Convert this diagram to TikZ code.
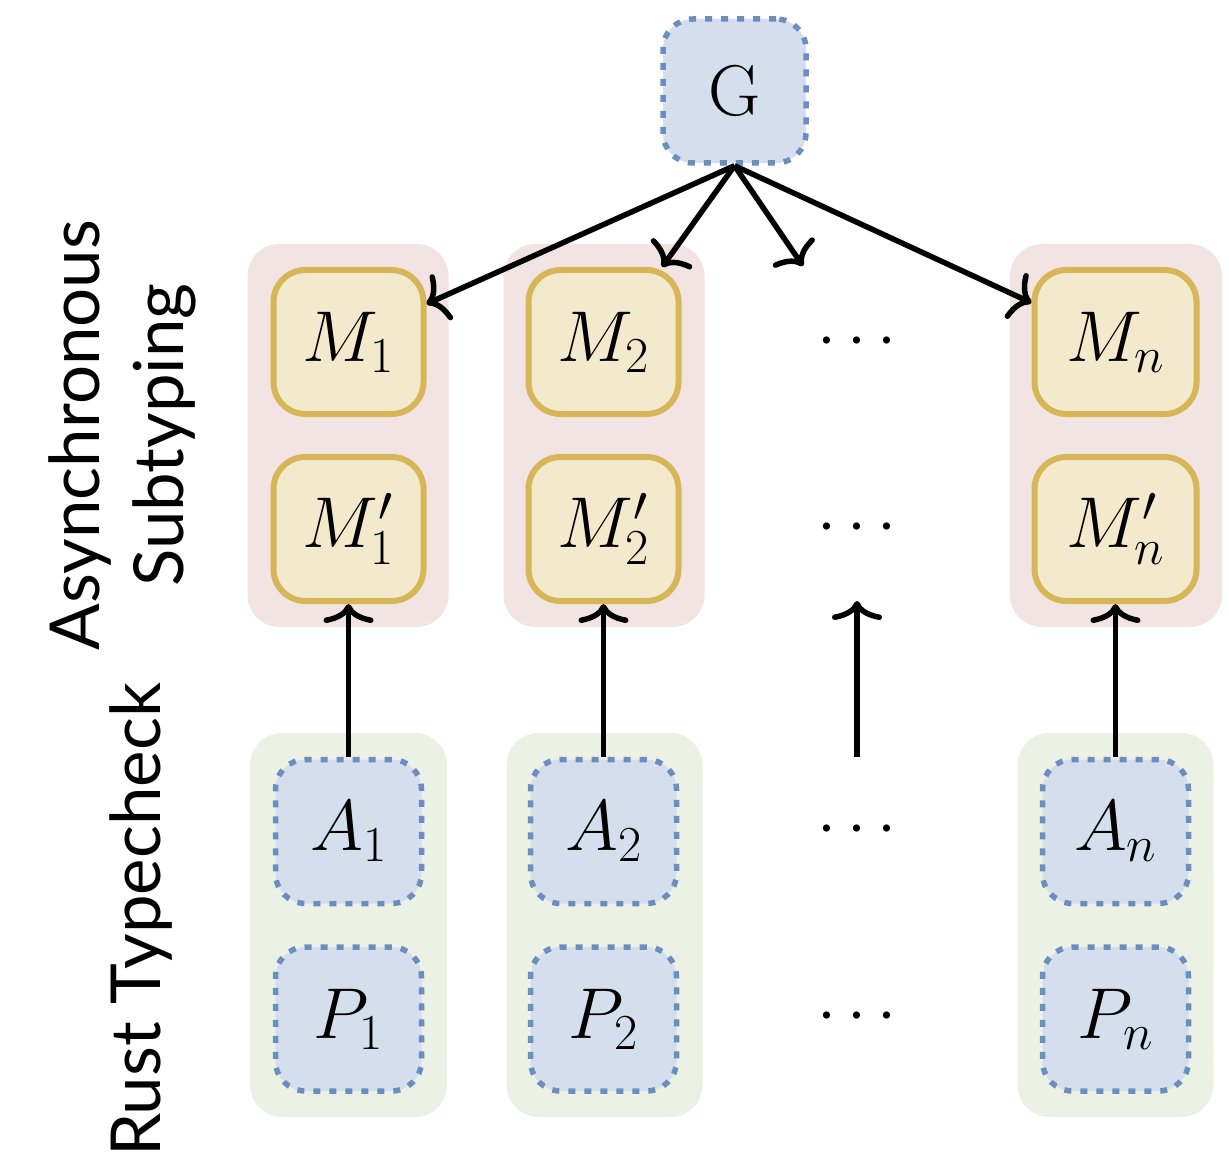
\RequirePackage{fix-cm}
\documentclass[tikz,border=0pt]{standalone}
\usepackage{fontspec}
\setsansfont{Lato}
\usetikzlibrary{arrows.meta}
\definecolor{bfill}{RGB}{212,222,236}
\definecolor{bline}{RGB}{108,142,191}
\definecolor{yfill}{RGB}{243,233,205}
\definecolor{yline}{RGB}{214,182,86}
\definecolor{pgrp}{RGB}{243,228,228}
\definecolor{ggrp}{RGB}{235,242,229}
\tikzset{
  bluebox/.style={draw=bline, fill=bfill, line width=5.5pt, dash pattern=on 7pt off 9pt,
    rounded corners=30pt, minimum height=144pt, inner sep=0pt,
    font=\fontsize{72}{78}\selectfont},
  ybox/.style={draw=yline, fill=yfill, line width=6pt, rounded corners=32pt,
    minimum height=144pt, inner sep=0pt, font=\fontsize{72}{78}\selectfont},
  pinkgrp/.style={fill=pgrp, rounded corners=32pt, inner sep=0pt, minimum height=383pt},
  greengrp/.style={fill=ggrp, rounded corners=32pt, inner sep=0pt, minimum height=384pt},
  arr/.style={line width=5.5pt, -{Computer Modern Rightarrow[length=19pt,width=50pt,line width=5.5pt]}},
  dotlbl/.style={inner sep=0pt, font=\fontsize{68}{72}\selectfont},
  sidelbl/.style={rotate=90, align=center, inner sep=0pt, font=\sffamily\fontsize{69}{84}\selectfont}
}
\begin{document}
\begin{tikzpicture}[x=1pt,y=-1pt]
\useasboundingbox (0,0) rectangle (1229,1158);
% groups
\node[pinkgrp, minimum width=201pt] (pg1) at (348,435.5) {};
\node[pinkgrp, minimum width=201pt] (pg2) at (604,435.5) {};
\node[pinkgrp, minimum width=212pt] (pgn) at (1116,435.5) {};
\node[greengrp, minimum width=197pt] (gg1) at (348.5,925) {};
\node[greengrp, minimum width=196pt] (gg2) at (604.5,925) {};
\node[greengrp, minimum width=196pt] (ggn) at (1115.5,925) {};
% G
\node[bluebox, minimum width=143pt] (G) at (734.5,91) {G};
% M nodes
\node[ybox, minimum width=150pt] (M1) at (348.5,342) {$M_1$};
\node[ybox, minimum width=150pt] (M2) at (603.5,342) {$M_2$};
\node[ybox, minimum width=162pt] (Mn) at (1115.5,342) {$M_n$};
\node[ybox, minimum width=150pt] (M1p) at (348.5,529) {$M'_1$};
\node[ybox, minimum width=150pt] (M2p) at (603.5,529) {$M'_2$};
\node[ybox, minimum width=162pt] (Mnp) at (1115.5,529) {$M'_n$};
% A and P nodes
\node[bluebox, minimum width=146pt] (A1) at (348.5,831.5) {$A_1$};
\node[bluebox, minimum width=146pt] (A2) at (603.5,831.5) {$A_2$};
\node[bluebox, minimum width=146pt] (An) at (1115.5,831.5) {$A_n$};
\node[bluebox, minimum width=146pt] (P1) at (348.5,1019) {$P_1$};
\node[bluebox, minimum width=146pt] (P2) at (603.5,1019) {$P_2$};
\node[bluebox, minimum width=146pt] (Pn) at (1115.5,1019) {$P_n$};
% dots
\node[dotlbl] (d1) at (857,342) {$\cdots$};
\node[dotlbl] (d2) at (857,528) {$\cdots$};
\node[dotlbl] (d3) at (857,830) {$\cdots$};
\node[dotlbl] (d4) at (857,1017) {$\cdots$};
\coordinate (gtip) at (803,266);
\coordinate (dbot) at (857,757);
\coordinate (dtop) at (857,601);
% arrows
\draw[arr] (G.south) -- (M1.26);
\draw[arr] (G.south) -- (M2.52);
\draw[arr] (G.south) -- (gtip);
\draw[arr] (G.south) -- (Mn.155);
\draw[arr] (A1.north) -- (M1p.south);
\draw[arr] (A2.north) -- (M2p.south);
\draw[arr] (An.north) -- (Mnp.south);
\draw[arr] (dbot) -- (dtop);
% side labels
\node[sidelbl] (lab1) at (122,435) {Asynchronous\\Subtyping};
\node[sidelbl] (lab2) at (141,920) {Rust Typecheck};
\end{tikzpicture}
\end{document}
